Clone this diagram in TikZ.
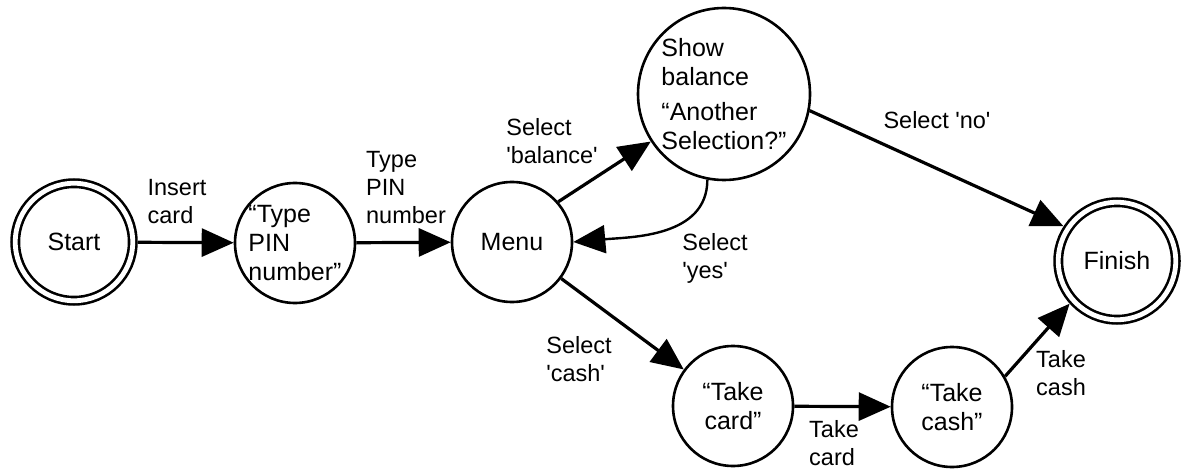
\documentclass[tikz,border=0pt]{standalone}
\usepackage{fontspec}
\setmainfont{Liberation Sans}[Ligatures=TeXOff]
\usetikzlibrary{arrows.meta}

\begin{document}
\begin{tikzpicture}[x=0.5pt,y=-0.5pt,
	state/.style={circle,draw,line width=1.3pt,minimum size=60pt,inner sep=0pt,align=center,font=\fontsize{12.5}{14.5}\selectfont},
	accept/.style={double,double distance=2.4pt,minimum size=58.75pt,outer sep=2.5pt},
	edge/.style={line width=1.6pt,-{Triangle[length=16pt,width=14pt]}},
	lbl/.style={align=left,inner sep=0pt,font=\fontsize{11.75}{14}\selectfont}]
	\useasboundingbox (0,0) rectangle (1182,470);
	\node[state,accept] (start) at (74,242) {Start}; %開始
	\node[state,align=left] (pin) at (295,243) {“Type\\PIN\\number”};
	\node[state] (menu) at (512,242) {Menu};
	\node[state,align=left,minimum size=86pt] (show) at (724,94) {Show\\balance\\[3pt]“Another\\Selection?”};
	\node[state,accept] (finish) at (1117,261) {Finish}; %終了
	\node[state] (card) at (733,406) {“Take\\card”};
	\node[state] (cash) at (952,407) {“Take\\cash”};
	\draw[edge] (start) -- (pin);
	\draw[edge] (pin) -- (menu);
	\draw[edge] (menu.41) -- (show.213);
	\draw[edge,line width=1.2pt] (show.-101) to[out=-90,in=5] (menu.east); %戻る
	\draw[edge] (show.-11) -- (finish.147);
	\draw[edge] (menu) -- (card);
	\draw[edge] (card) -- (cash);
	\draw[edge] (cash.30) -- (finish.222);
	\node[lbl] (insert) at (177,202) {Insert\\card};
	\node[lbl] (typepin) at (406,188) {Type\\PIN\\number};
	\node[lbl] (selbal) at (552,141) {Select\\'balance'};
	\node[lbl] (selyes) at (715,258) {Select\\'yes'};
	\node[lbl] (selno) at (937,120) {Select 'no'};
	\node[lbl] (selcash) at (579,359) {Select\\'cash'};
	\node[lbl] (takecard) at (834,443) {Take\\card};
	\node[lbl] (takecash) at (1061,373) {Take\\cash};
\end{tikzpicture}
\end{document}
